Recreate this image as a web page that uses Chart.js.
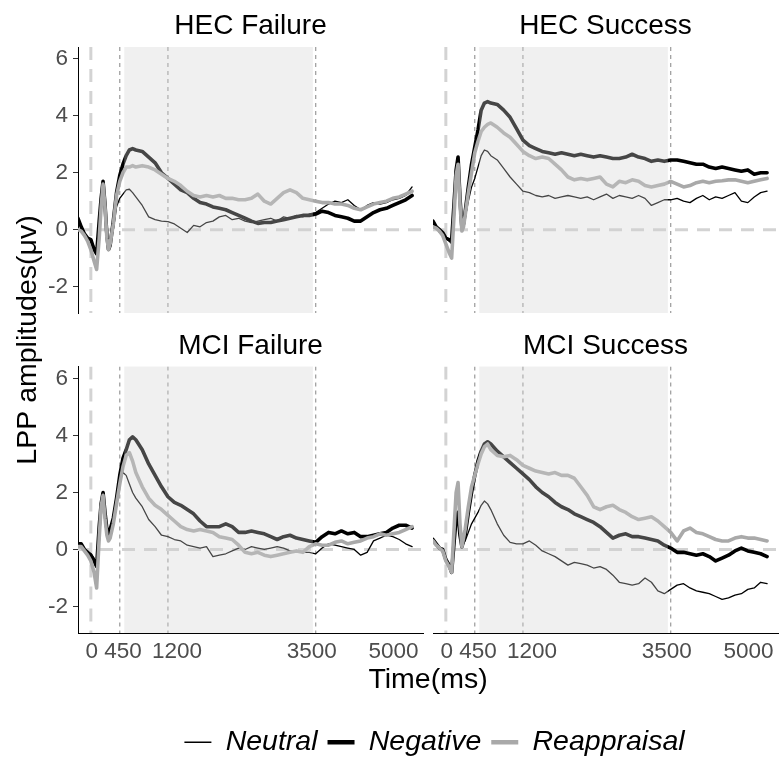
<!DOCTYPE html>
<html>
<head>
<meta charset="utf-8">
<title>LPP amplitudes</title>
<script src="https://cdn.jsdelivr.net/npm/chart.js@4.4.1/dist/chart.umd.min.js"></script>
<style>
    html, body { margin: 0; padding: 0; background: #fff; overflow: hidden; }
    #figure { position: relative; width: 779px; height: 758px; overflow: hidden; }
    #figure canvas { position: absolute; left: 0; top: 0; }
</style>
</head>
<body>
<div id="figure">
    <canvas id="frame" width="779" height="758" style="width:779px;height:758px"></canvas>
    <canvas id="hecFailure" width="779" height="758" style="width:779px;height:758px"></canvas>
    <canvas id="hecSuccess" width="779" height="758" style="width:779px;height:758px"></canvas>
    <canvas id="mciFailure" width="779" height="758" style="width:779px;height:758px"></canvas>
    <canvas id="mciSuccess" width="779" height="758" style="width:779px;height:758px"></canvas>
    <canvas id="legend" width="689" height="120" style="left:90px;top:718px;width:689px;height:120px"></canvas>
</div>
<script>

/**
 * Data
 *
 * - time points (ms)
 * - one array per panel and condition
 * - ticks, marker lines, shaded window
 */

var times = [-200, -150, -100, -50, 0, 50, 90, 130, 160, 190, 220, 250, 275, 300, 350, 400, 450, 500, 550, 600, 650, 700,
    800, 900, 1000, 1100, 1200, 1300, 1400, 1500, 1600, 1700,
    1800, 1900, 2000, 2100, 2200, 2300, 2400, 2500, 2600, 2700,
    2800, 2900, 3000, 3100, 3200, 3300, 3400, 3500, 3600, 3700,
    3800, 3900, 4000, 4100, 4200, 4300, 4400, 4500, 4600, 4700,
    4800, 4900, 5000];

var hecFailureNeutral = [0.4, 0.15, -0.1, -0.3, -0.35, -0.6, -0.8, 0.2, 1.0, 1.6, 0.9, -0.2, -0.6, -0.5, 0.0, 0.8, 1.1, 1.25, 1.4, 1.42, 1.3, 1.15,
    0.85, 0.45, 0.35, 0.3, 0.28, 0.2, 0.05, -0.1, 0.15, 0.1,
    0.25, 0.3, 0.45, 0.5, 0.35, 0.4, 0.3, 0.25, 0.3, 0.35,
    0.4, 0.3, 0.45, 0.4, 0.5, 0.45, 0.55, 0.6, 0.75, 0.9,
    1.0, 0.95, 1.05, 0.85, 0.7, 0.85, 0.95, 0.9, 0.95, 1.05,
    1.1, 1.2, 1.5];
var hecFailureNegative = [0.4, 0.1, -0.15, -0.3, -0.35, -0.7, -0.85, 0.3, 1.1, 1.7, 0.9, -0.2, -0.7, -0.55, 0.3, 1.3, 1.9, 2.3, 2.6, 2.8, 2.85, 2.8,
    2.75, 2.55, 2.35, 2.0, 1.8, 1.6, 1.4, 1.3, 1.1, 0.95,
    0.9, 0.8, 0.75, 0.7, 0.6, 0.5, 0.4, 0.3, 0.22, 0.25,
    0.25, 0.3, 0.35, 0.4, 0.45, 0.5, 0.5, 0.55, 0.65, 0.6,
    0.5, 0.45, 0.4, 0.3, 0.3, 0.45, 0.6, 0.7, 0.75, 0.85,
    0.95, 1.05, 1.2];
var hecFailureReappraisal = [0.0, -0.05, -0.2, -0.4, -0.7, -1.1, -1.4, -0.3, 0.8, 1.6, 0.8, -0.3, -0.7, -0.5, 0.2, 1.2, 1.7, 2.0, 2.2, 2.2, 2.25, 2.2,
    2.25, 2.2, 2.1, 1.95, 1.8, 1.7, 1.55, 1.35, 1.2, 1.15,
    1.2, 1.15, 1.2, 1.1, 1.1, 1.05, 1.05, 1.1, 1.25, 1.0,
    0.9, 1.1, 1.3, 1.4, 1.3, 1.1, 1.05, 1.0, 0.95, 0.95,
    0.9, 0.9, 0.85, 0.75, 0.7, 0.8, 0.9, 0.95, 1.0, 1.1,
    1.15, 1.25, 1.35];

var hecSuccessNeutral = [0.25, 0.1, -0.1, -0.15, -0.3, -0.4, -0.5, 1.0, 2.0, 2.5, 1.0, 0.0, 0.1, 0.4, 1.0, 1.5, 1.8, 2.2, 2.6, 2.8, 2.75, 2.6,
    2.45, 2.15, 1.85, 1.6, 1.35, 1.3, 1.2, 1.15, 1.2, 1.1,
    1.15, 1.2, 1.15, 1.1, 1.15, 1.05, 1.15, 1.25, 1.1, 1.2,
    1.15, 1.1, 1.2, 1.1, 0.85, 0.95, 1.05, 1.05, 1.1, 1.0,
    0.95, 1.1, 1.2, 1.05, 1.15, 1.1, 1.2, 1.3, 1.0, 0.95,
    1.15, 1.3, 1.35];
var hecSuccessNegative = [0.3, 0.1, 0.0, -0.1, -0.3, -0.35, -0.4, 1.0, 2.1, 2.55, 1.1, 0.05, 0.2, 0.6, 1.5, 2.3, 2.9, 3.5, 4.2, 4.45, 4.5, 4.45,
    4.4, 4.2, 3.95, 3.55, 3.15, 2.95, 2.85, 2.75, 2.7, 2.65,
    2.7, 2.65, 2.6, 2.65, 2.6, 2.55, 2.6, 2.55, 2.5, 2.5,
    2.55, 2.65, 2.55, 2.5, 2.4, 2.45, 2.4, 2.45, 2.45, 2.4,
    2.35, 2.3, 2.3, 2.2, 2.15, 2.2, 2.15, 2.1, 2.05, 2.1,
    1.95, 2.0, 2.0];
var hecSuccessReappraisal = [0.1, 0.05, -0.05, -0.2, -0.5, -0.8, -1.0, 0.6, 1.9, 2.3, 0.9, -0.05, 0.1, 0.5, 1.3, 2.0, 2.7, 3.1, 3.45, 3.6, 3.7, 3.75,
    3.6, 3.4, 3.25, 3.0, 2.75, 2.6, 2.5, 2.55, 2.5, 2.3,
    2.1, 1.85, 1.75, 1.8, 1.75, 1.8, 1.85, 1.6, 1.5, 1.7,
    1.65, 1.75, 1.7, 1.55, 1.5, 1.55, 1.6, 1.7, 1.6, 1.5,
    1.55, 1.65, 1.7, 1.65, 1.7, 1.72, 1.75, 1.75, 1.7, 1.65,
    1.7, 1.75, 1.8];

var mciFailureNeutral = [0.2, 0.15, 0.0, -0.1, -0.15, -0.3, -0.6, 0.8, 1.6, 2.0, 1.3, 0.7, 0.5, 0.6, 1.0, 1.7, 2.4, 2.7, 2.6, 2.3, 2.0, 1.8,
    1.5, 1.05, 0.8, 0.5, 0.45, 0.35, 0.3, 0.15, 0.1, 0.05,
    0.1, -0.25, -0.2, -0.15, -0.05, 0.05, 0.0, 0.1, 0.05, 0.0,
    0.05, 0.1, 0.05, -0.05, -0.05, -0.1, -0.1, -0.15, 0.05, 0.2,
    0.15, 0.1, 0.05, 0.0, -0.2, -0.1, 0.3, 0.4, 0.5, 0.45,
    0.35, 0.2, 0.1];
var mciFailureNegative = [0.2, 0.2, 0.0, -0.1, -0.2, -0.4, -0.6, 0.8, 1.6, 2.0, 1.3, 0.7, 0.55, 0.7, 1.1, 1.8, 2.6, 3.2, 3.5, 3.85, 3.95, 3.85,
    3.5, 3.0, 2.6, 2.2, 1.85, 1.65, 1.55, 1.4, 1.25, 1.0,
    0.8, 0.8, 0.8, 0.9, 0.8, 0.6, 0.6, 0.65, 0.6, 0.55,
    0.45, 0.35, 0.45, 0.5, 0.4, 0.35, 0.3, 0.25, 0.45, 0.6,
    0.55, 0.65, 0.55, 0.6, 0.45, 0.45, 0.5, 0.55, 0.6, 0.75,
    0.85, 0.85, 0.75];
var mciFailureReappraisal = [0.1, 0.1, -0.05, -0.2, -0.4, -0.8, -1.35, 0.4, 1.5, 1.9, 1.1, 0.5, 0.3, 0.4, 0.9, 1.6, 2.3, 2.9, 3.3, 3.4, 3.1, 2.7,
    2.2, 1.8, 1.55, 1.4, 1.2, 1.0, 0.8, 0.7, 0.65, 0.7,
    0.65, 0.6, 0.45, 0.4, 0.35, 0.15, -0.1, -0.15, -0.1, -0.2,
    -0.25, -0.2, -0.15, -0.1, -0.05, -0.1, 0.1, 0.2, 0.15, 0.15,
    0.25, 0.3, 0.2, 0.25, 0.3, 0.4, 0.45, 0.55, 0.5, 0.55,
    0.6, 0.7, 0.8];

var mciSuccessNeutral = [0.35, 0.2, 0.05, 0.0, -0.3, -0.5, -0.8, 0.2, 0.9, 1.2, 0.4, 0.1, 0.2, 0.3, 0.6, 0.9, 1.1, 1.3, 1.55, 1.7, 1.6, 1.4,
    0.9, 0.5, 0.25, 0.2, 0.2, 0.3, 0.15, -0.05, -0.15, -0.25,
    -0.4, -0.55, -0.45, -0.5, -0.55, -0.65, -0.6, -0.7, -0.9, -1.15,
    -1.2, -1.25, -1.2, -1.0, -1.15, -1.45, -1.55, -1.4, -1.25, -1.2,
    -1.35, -1.45, -1.5, -1.55, -1.65, -1.75, -1.7, -1.6, -1.55, -1.4,
    -1.35, -1.15, -1.2];
var mciSuccessNegative = [0.35, 0.2, 0.05, 0.0, -0.35, -0.55, -0.8, 0.3, 1.1, 1.3, 0.5, 0.1, 0.3, 0.5, 1.3, 2.0, 2.6, 3.1, 3.45, 3.7, 3.78, 3.7,
    3.45, 3.25, 3.05, 2.85, 2.65, 2.45, 2.2, 2.0, 1.85, 1.65,
    1.5, 1.4, 1.25, 1.15, 1.05, 0.95, 0.8, 0.6, 0.4, 0.5,
    0.55, 0.45, 0.45, 0.4, 0.35, 0.3, 0.15, 0.05, -0.1, -0.1,
    -0.15, -0.2, -0.15, -0.25, -0.4, -0.3, -0.2, -0.05, 0.05, -0.05,
    -0.1, -0.15, -0.25];
var mciSuccessReappraisal = [0.3, 0.15, 0.05, -0.05, -0.4, -0.6, -0.8, 0.8, 2.0, 2.35, 0.9, 0.1, 0.4, 0.7, 1.5, 2.2, 2.6, 3.0, 3.35, 3.6, 3.7, 3.5,
    3.3, 3.25, 3.3, 3.15, 2.95, 2.85, 2.75, 2.7, 2.65, 2.7,
    2.6, 2.6, 2.5, 2.2, 1.9, 1.5, 1.4, 1.5, 1.55, 1.4,
    1.3, 1.15, 1.05, 1.1, 1.15, 1.0, 0.8, 0.6, 0.3, 0.65,
    0.75, 0.6, 0.55, 0.45, 0.35, 0.3, 0.3, 0.4, 0.45, 0.4,
    0.4, 0.35, 0.3];

var conditions = ['Neutral', 'Negative', 'Reappraisal'];
var xTickValues = [15, 500, 1340, 3440, 4710];
var xTickLabels = ['0', '450', '1200', '3500', '5000'];
var yTickValues = [-2, 0, 2, 4, 6];
var markerTimes = [450, 1200, 3500];
var windowTimes = [520, 3455];

/**
 * Styles
 */

Chart.defaults.font.family = '"Liberation Sans", Arial, Helvetica, sans-serif';
Chart.defaults.animation = false;

var lineStyles = {
    Neutral: {color: '#000000', width: 1.3, key: 1.5},
    Negative: {color: '#000000', width: 3.6, key: 4.5},
    Reappraisal: {color: '#a9a9a9', width: 3.6, key: 4.5}
};

function points(series) {
    return times.map(function (t, i) {
        return {x: t, y: series[i]};
    });
}

/**
 * Reference lines under the curves, shaded window over them
 */

var panelDeco = {
    id: 'panelDeco',
    beforeDatasetsDraw: function (chart) {
        var ctx = chart.ctx, a = chart.chartArea, x = chart.scales.x, y = chart.scales.y;
        ctx.save();
        ctx.beginPath();
        ctx.rect(a.left, a.top, a.right - a.left, a.bottom - a.top);
        ctx.clip();

        ctx.lineWidth = 1.2;
        ctx.strokeStyle = '#9a9a9a';
        ctx.setLineDash([4, 4]);
        markerTimes.forEach(function (t) {
            var px = x.getPixelForValue(t);
            ctx.beginPath();
            ctx.moveTo(px, a.top);
            ctx.lineTo(px, a.bottom);
            ctx.stroke();
        });

        ctx.lineWidth = 3;
        ctx.strokeStyle = '#d3d3d3';
        ctx.setLineDash([13, 9]);
        var x0 = x.getPixelForValue(0), y0 = y.getPixelForValue(0);
        ctx.beginPath();
        ctx.moveTo(x0, a.top);
        ctx.lineTo(x0, a.bottom);
        ctx.stroke();
        ctx.beginPath();
        ctx.moveTo(a.left, y0);
        ctx.lineTo(a.right, y0);
        ctx.stroke();
        ctx.restore();
    },
    afterDatasetsDraw: function (chart) {
        var ctx = chart.ctx, a = chart.chartArea, x = chart.scales.x;
        var x1 = x.getPixelForValue(windowTimes[0]), x2 = x.getPixelForValue(windowTimes[1]);
        ctx.save();
        ctx.fillStyle = 'rgba(210, 210, 210, 0.333)';
        ctx.fillRect(x1, a.top, x2 - x1, a.bottom - a.top);
        ctx.restore();
    }
};

/**
 * Panels
 */

function makePanel(id, title, series, row, col) {
    return new Chart(document.getElementById(id), {
        type: 'line',
        data: {
            datasets: conditions.map(function (name, i) {
                return {
                    label: name,
                    data: points(series[i]),
                    borderColor: lineStyles[name].color,
                    borderWidth: lineStyles[name].width,
                    pointRadius: 0,
                    tension: 0,
                    fill: false,
                    borderJoinStyle: 'round',
                    borderCapStyle: 'round',
                    order: 2 - i
                };
            })
        },
        options: {
            responsive: false,
            animation: false,
            events: [],
            layout: {
                padding: {
                    left: col ? 433 : 18,
                    right: col ? 1 : 356,
                    top: row ? 329 : 9.5,
                    bottom: row ? 85 : 445
                }
            },
            plugins: {
                legend: {display: false},
                tooltip: {enabled: false},
                title: {
                    display: true,
                    text: title,
                    fullSize: false,
                    color: '#000',
                    font: {size: 28, weight: 'normal'},
                    padding: {top: 0, bottom: 3.9}
                }
            },
            scales: {
                x: {
                    type: 'linear',
                    min: -200,
                    max: 5170,
                    display: row === 1,
                    afterBuildTicks: function (s) {
                        s.ticks = xTickValues.map(function (v) { return {value: v}; });
                    },
                    ticks: {
                        autoSkip: false,
                        maxRotation: 0,
                        padding: 0,
                        color: '#4d4d4d',
                        font: {size: 22.5},
                        callback: function (v, i) { return xTickLabels[i]; }
                    },
                    grid: {display: false, drawTicks: true, tickLength: 5},
                    border: {display: true, color: '#000', width: 1},
                    afterFit: function (s) { s.height = row ? 40 : 0; }
                },
                y: {
                    type: 'linear',
                    min: -2.93,
                    max: 6.42,
                    display: col === 0,
                    afterBuildTicks: function (s) {
                        s.ticks = yTickValues.map(function (v) { return {value: v}; });
                    },
                    ticks: {
                        padding: 5,
                        color: '#4d4d4d',
                        font: {size: 22.5},
                        callback: function (v) { return String(v); }
                    },
                    grid: {display: true, drawOnChartArea: false, drawTicks: true, tickLength: 5, color: '#333', lineWidth: 1},
                    border: {display: true, color: '#000', width: 1},
                    afterFit: function (s) { s.width = col ? 0 : 60; }
                }
            }
        },
        plugins: [panelDeco]
    });
}

makePanel('hecFailure', 'HEC Failure', [hecFailureNeutral, hecFailureNegative, hecFailureReappraisal], 0, 0);
makePanel('hecSuccess', 'HEC Success', [hecSuccessNeutral, hecSuccessNegative, hecSuccessReappraisal], 0, 1);
makePanel('mciFailure', 'MCI Failure', [mciFailureNeutral, mciFailureNegative, mciFailureReappraisal], 1, 0);
makePanel('mciSuccess', 'MCI Success', [mciSuccessNeutral, mciSuccessNegative, mciSuccessReappraisal], 1, 1);

/**
 * Shared axis titles
 */

new Chart(document.getElementById('frame'), {
    type: 'line',
    data: {datasets: []},
    options: {
        responsive: false,
        animation: false,
        events: [],
        layout: {padding: {left: 0, top: 47, right: 1, bottom: 55}},
        plugins: {legend: {display: false}, tooltip: {enabled: false}},
        scales: {
            x: {
                type: 'linear', min: 0, max: 1,
                ticks: {display: false},
                grid: {display: false, drawTicks: false},
                border: {display: false},
                title: {display: true, text: 'Time(ms)', color: '#000', font: {size: 28.5}, padding: {top: 0, bottom: 6}},
                afterFit: function (s) { s.height = 70; }
            },
            y: {
                type: 'linear', min: 0, max: 1,
                ticks: {display: false},
                grid: {display: false, drawTicks: false},
                border: {display: false},
                title: {display: true, text: 'LPP amplitudes(μv)', color: '#000', font: {size: 28.5}, padding: {top: 11, bottom: 0}},
                afterFit: function (s) { s.width = 78; }
            }
        }
    }
});

/**
 * Legend
 */

new Chart(document.getElementById('legend'), {
    type: 'line',
    data: {datasets: []},
    options: {
        responsive: false,
        animation: false,
        events: [],
        layout: {padding: 0},
        scales: {x: {display: false}, y: {display: false}},
        plugins: {
            tooltip: {enabled: false},
            legend: {
                display: true,
                position: 'top',
                labels: {
                    usePointStyle: true,
                    pointStyle: 'line',
                    pointStyleWidth: 27,
                    padding: 10,
                    color: '#000',
                    font: {size: 28.5, style: 'italic'},
                    generateLabels: function () {
                        return conditions.map(function (name, i) {
                            return {
                                text: name,
                                fontColor: '#000',
                                strokeStyle: lineStyles[name].color,
                                fillStyle: lineStyles[name].color,
                                lineWidth: lineStyles[name].key,
                                pointStyle: 'line',
                                hidden: false,
                                datasetIndex: i
                            };
                        });
                    }
                }
            }
        }
    }
});

</script>
</body>
</html>
